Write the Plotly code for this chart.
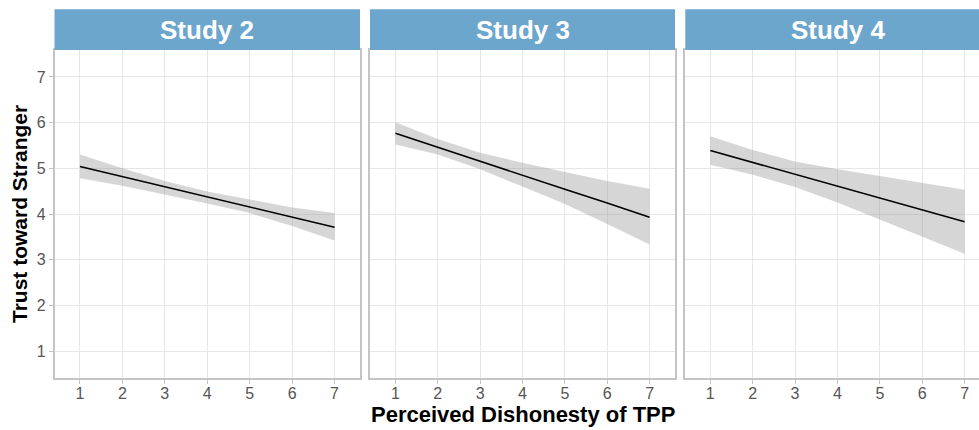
import plotly.graph_objects as go

W, H = 979, 430

# ---- data ----
panels = ["Study 2", "Study 3", "Study 4"]
x_vals = [1, 2, 3, 4, 5, 6, 7]

study2_fit = [5.04, 4.82, 4.60, 4.37, 4.15, 3.93, 3.71]
study2_upper = [5.30, 5.00, 4.72, 4.49, 4.32, 4.14, 4.02]
study2_lower = [4.78, 4.62, 4.42, 4.23, 4.02, 3.74, 3.42]

study3_fit = [5.77, 5.46, 5.16, 4.85, 4.54, 4.24, 3.93]
study3_upper = [6.01, 5.64, 5.34, 5.12, 4.92, 4.72, 4.55]
study3_lower = [5.52, 5.30, 4.98, 4.60, 4.22, 3.78, 3.33]

study4_fit = [5.39, 5.13, 4.87, 4.61, 4.35, 4.09, 3.83]
study4_upper = [5.70, 5.40, 5.15, 4.98, 4.83, 4.68, 4.53]
study4_lower = [5.08, 4.86, 4.59, 4.25, 3.87, 3.50, 3.13]

tick_vals = [1, 2, 3, 4, 5, 6, 7]
tick_text = ["1", "2", "3", "4", "5", "6", "7"]

x_title = "Perceived Dishonesty of TPP"
y_title = "Trust toward Stranger"

fits = [study2_fit, study3_fit, study4_fit]
uppers = [study2_upper, study3_upper, study4_upper]
lowers = [study2_lower, study3_lower, study4_lower]

# ---- layout geometry (pixels) ----
FONT = "Liberation Sans, Arial, sans-serif"
panel_px = [(54.5, 360.0), (370.0, 675.0), (685.3, 979.0)]
strip_centers = [207.2, 522.5, 837.6]
x_ranges = [[0.4, 7.6], [0.4, 7.6], [0.41, 7.34]]
plot_top, plot_bot = 50.0, 378.0
strip_top = 9.3

def px_x(p):
    return p / W

def px_y(p):
    return 1 - p / H

fig = go.Figure()
shapes = []
annotations = []

for i, name in enumerate(panels):
    xa = "x" if i == 0 else f"x{i+1}"
    ya = "y" if i == 0 else f"y{i+1}"
    fig.add_trace(go.Scatter(
        x=x_vals + x_vals[::-1],
        y=uppers[i] + lowers[i][::-1],
        fill="toself", fillcolor="rgba(153,153,153,0.40)",
        line=dict(width=0), mode="lines", hoverinfo="skip",
        showlegend=False, xaxis=xa, yaxis=ya))
    fig.add_trace(go.Scatter(
        x=x_vals, y=fits[i], mode="lines",
        line=dict(color="black", width=1.6),
        showlegend=False, xaxis=xa, yaxis=ya))

    x0, x1 = panel_px[i]
    dom = [px_x(x0), min(1.0, px_x(x1))]
    xkey = "xaxis" if i == 0 else f"xaxis{i+1}"
    ykey = "yaxis" if i == 0 else f"yaxis{i+1}"
    fig.layout[xkey] = dict(
        domain=dom, range=x_ranges[i], anchor=ya,
        tickmode="array", tickvals=tick_vals, ticktext=tick_text,
        showgrid=True, gridcolor="#E6E6E6", gridwidth=1,
        zeroline=False, showline=True, linecolor="#C4C4C4", linewidth=1.5,
        mirror=True, ticks="outside", ticklen=4, tickcolor="#C4C4C4",
        ticklabelstandoff=-4,
        tickfont=dict(family=FONT, size=16, color="#555555"),
        automargin=False, fixedrange=True)
    fig.layout[ykey] = dict(
        domain=[px_y(plot_bot), px_y(plot_top)], range=[0.41, 7.59],
        anchor=xa, tickmode="array", tickvals=tick_vals, ticktext=tick_text,
        showticklabels=(i == 0),
        showgrid=True, gridcolor="#E6E6E6", gridwidth=1,
        zeroline=False, showline=True, linecolor="#C4C4C4", linewidth=1.5,
        mirror=(i < 2), ticks="outside" if i == 0 else "", ticklen=4,
        tickcolor="#C4C4C4",
        tickfont=dict(family=FONT, size=16, color="#555555"),
        automargin=False, fixedrange=True)

    shapes.append(dict(type="rect", xref="paper", yref="paper",
                       x0=px_x(x0), x1=min(1.0, px_x(x1)),
                       y0=px_y(plot_top), y1=px_y(strip_top),
                       fillcolor="#6CA6CD", line=dict(width=0), layer="above"))
    annotations.append(dict(text=f"<b>{name}</b>", xref="paper", yref="paper",
                            x=px_x(strip_centers[i]),
                            y=px_y((strip_top + plot_top) / 2),
                            xanchor="center", yanchor="middle", showarrow=False,
                            font=dict(family=FONT, size=26, color="white")))

annotations.append(dict(text=f"<b>{x_title}</b>", xref="paper", yref="paper",
                        x=px_x(522.5), y=px_y(414), xanchor="center", yanchor="middle",
                        showarrow=False, font=dict(family=FONT, size=22, color="black")))
annotations.append(dict(text=f"<b>{y_title}</b>", xref="paper", yref="paper",
                        x=px_x(20), y=px_y(214), xanchor="center", yanchor="middle",
                        textangle=-90, showarrow=False,
                        font=dict(family=FONT, size=21, color="black")))

fig.update_layout(
    width=W, height=H, margin=dict(l=0, r=0, t=0, b=0),
    paper_bgcolor="white", plot_bgcolor="white",
    shapes=shapes, annotations=annotations, showlegend=False)

fig.write_html("out.html", config={"displayModeBar": False},
               post_script="document.body.style.margin='0';"
                           "document.body.style.overflow='hidden';")
